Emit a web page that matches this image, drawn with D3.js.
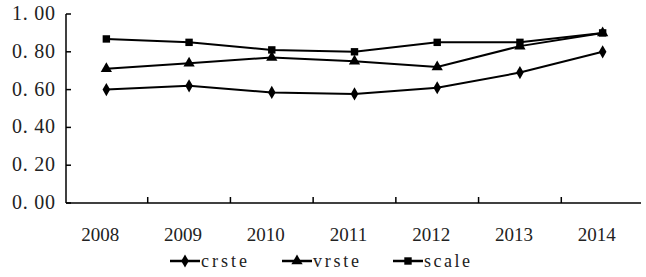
<!DOCTYPE html>
<html>
<head>
<meta charset="utf-8">
<script src="https://cdn.jsdelivr.net/npm/d3@7"></script>
<style>
  body { margin: 0; background: #fff; }
  svg { display: block; }
  text { font-family: "Liberation Serif"; fill: #222; }
</style>
</head>
<body>
<svg id="chart" width="646" height="277"></svg>
<script>
const years = ["2008", "2009", "2010", "2011", "2012", "2013", "2014"];
const crste = [0.60, 0.62, 0.585, 0.577, 0.61, 0.69, 0.80];
const vrste = [0.71, 0.74, 0.77, 0.75, 0.72, 0.83, 0.90];
const scale = [0.868, 0.85, 0.81, 0.80, 0.85, 0.85, 0.90];
const yTicks = [0, 0.2, 0.4, 0.6, 0.8, 1.0];

const series = [
  { name: "crste", values: crste, marker: "diamond" },
  { name: "vrste", values: vrste, marker: "triangle" },
  { name: "scale", values: scale, marker: "square" }
];

const svg = d3.select("#chart");
const plotLeft = 66, plotRight = 643, plotTop = 14, plotBottom = 203;

const x = d3.scaleBand().domain(years).range([plotLeft - 1, plotRight + 1]);
const y = d3.scaleLinear().domain([0, 1]).range([plotBottom, plotTop]);

// y axis
svg.append("line")
  .attr("x1", plotLeft).attr("x2", plotLeft)
  .attr("y1", plotTop).attr("y2", plotBottom)
  .attr("stroke", "#000").attr("stroke-width", 1.5);

svg.selectAll(".ytick")
  .data(yTicks)
  .enter()
  .append("line")
  .attr("x1", plotLeft).attr("x2", plotLeft + 5)
  .attr("y1", (d) => y(d)).attr("y2", (d) => y(d))
  .attr("stroke", "#000").attr("stroke-width", 1.5);

svg.selectAll(".ylabel")
  .data(yTicks)
  .enter()
  .append("text")
  .attr("x", 55)
  .attr("y", (d) => y(d) + 6)
  .attr("text-anchor", "end")
  .style("font-size", "20px")
  .attr("textLength", 43)
  .text((d) => d.toFixed(2).replace(".", ". "));

// x axis
svg.append("line")
  .attr("x1", plotLeft).attr("x2", 641)
  .attr("y1", plotBottom).attr("y2", plotBottom)
  .attr("stroke", "#000").attr("stroke-width", 1.5);

svg.selectAll(".xtick")
  .data(years.slice(1))
  .enter()
  .append("line")
  .attr("x1", (d) => x(d)).attr("x2", (d) => x(d))
  .attr("y1", plotBottom).attr("y2", plotBottom - 6)
  .attr("stroke", "#000").attr("stroke-width", 1.5);

svg.selectAll(".xlabel")
  .data(years)
  .enter()
  .append("text")
  .attr("x", (d) => x(d) + x.bandwidth() / 2 - 6)
  .attr("y", 241)
  .attr("text-anchor", "middle")
  .style("font-size", "19px")
  .text((d) => d);

// markers
const symbolFor = {
  diamond: d3.symbol().type(d3.symbolDiamond).size(50),
  triangle: d3.symbol().type(d3.symbolTriangle).size(55),
  square: d3.symbol().type(d3.symbolSquare).size(55)
};

const line = d3.line()
  .x((d, i) => x(years[i]) + x.bandwidth() / 2)
  .y((d) => y(d));

series.forEach((s) => {
  svg.append("path")
    .attr("d", line(s.values))
    .attr("fill", "none")
    .attr("stroke", "#000")
    .attr("stroke-width", 2);

  svg.selectAll(".m-" + s.name)
    .data(s.values)
    .enter()
    .append("path")
    .attr("d", symbolFor[s.marker])
    .attr("transform", (d, i) => `translate(${x(years[i]) + x.bandwidth() / 2},${y(d)})`)
    .attr("fill", "#000");
});

// legend
const legendX = [170, 282, 393];
const legend = svg.selectAll(".legend")
  .data(series)
  .enter()
  .append("g")
  .attr("transform", (d, i) => `translate(${legendX[i]},261)`);

legend.append("line")
  .attr("x1", 0).attr("x2", 30)
  .attr("stroke", "#000").attr("stroke-width", 2.5);

legend.append("path")
  .attr("d", (d) => symbolFor[d.marker]())
  .attr("transform", "translate(15,0)")
  .attr("fill", "#000");

legend.append("text")
  .attr("x", 31)
  .attr("y", 6)
  .style("font-size", "18px")
  .attr("textLength", 46)
  .text((d) => d.name);
</script>
</body>
</html>
